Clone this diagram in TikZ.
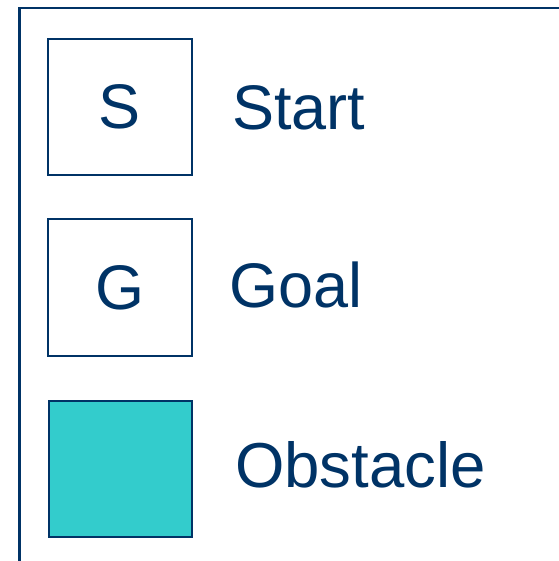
\documentclass[tikz,border=0pt]{standalone}
\usepackage{fontspec}
\setmainfont{Liberation Sans}
\definecolor{navy}{HTML}{003366}
\definecolor{teal}{HTML}{33CCCC}
\begin{document}
\begin{tikzpicture}[x=1pt,y=-1pt,
  cell/.style={draw=navy, line width=1.6pt, minimum width=144pt, minimum height=136pt, inner sep=0pt, text=navy, font=\fontsize{63}{70}\selectfont},
  lbl/.style={anchor=base west, inner sep=0pt, text=navy, font=\fontsize{63}{70}\selectfont}]
\useasboundingbox (0,0) rectangle (558,561);
\draw[navy, line width=2.4pt] (19.5,570) -- (19.5,8) -- (570,8);
\node[cell] (s) at (120,107) {S};
\node[cell, minimum height=137pt] (g) at (120,287.5) {G};
\node[cell, fill=teal, line width=2.6pt, minimum width=143pt] (o) at (120.5,469) {};
\node[lbl] (st) at (232,130) {Start};
\node[lbl] (gl) at (229,307) {Goal};
\node[lbl, font=\fontsize{63.5}{70}\selectfont] (ob) at (235,487) {Obstacle};
\end{tikzpicture}
\end{document}
